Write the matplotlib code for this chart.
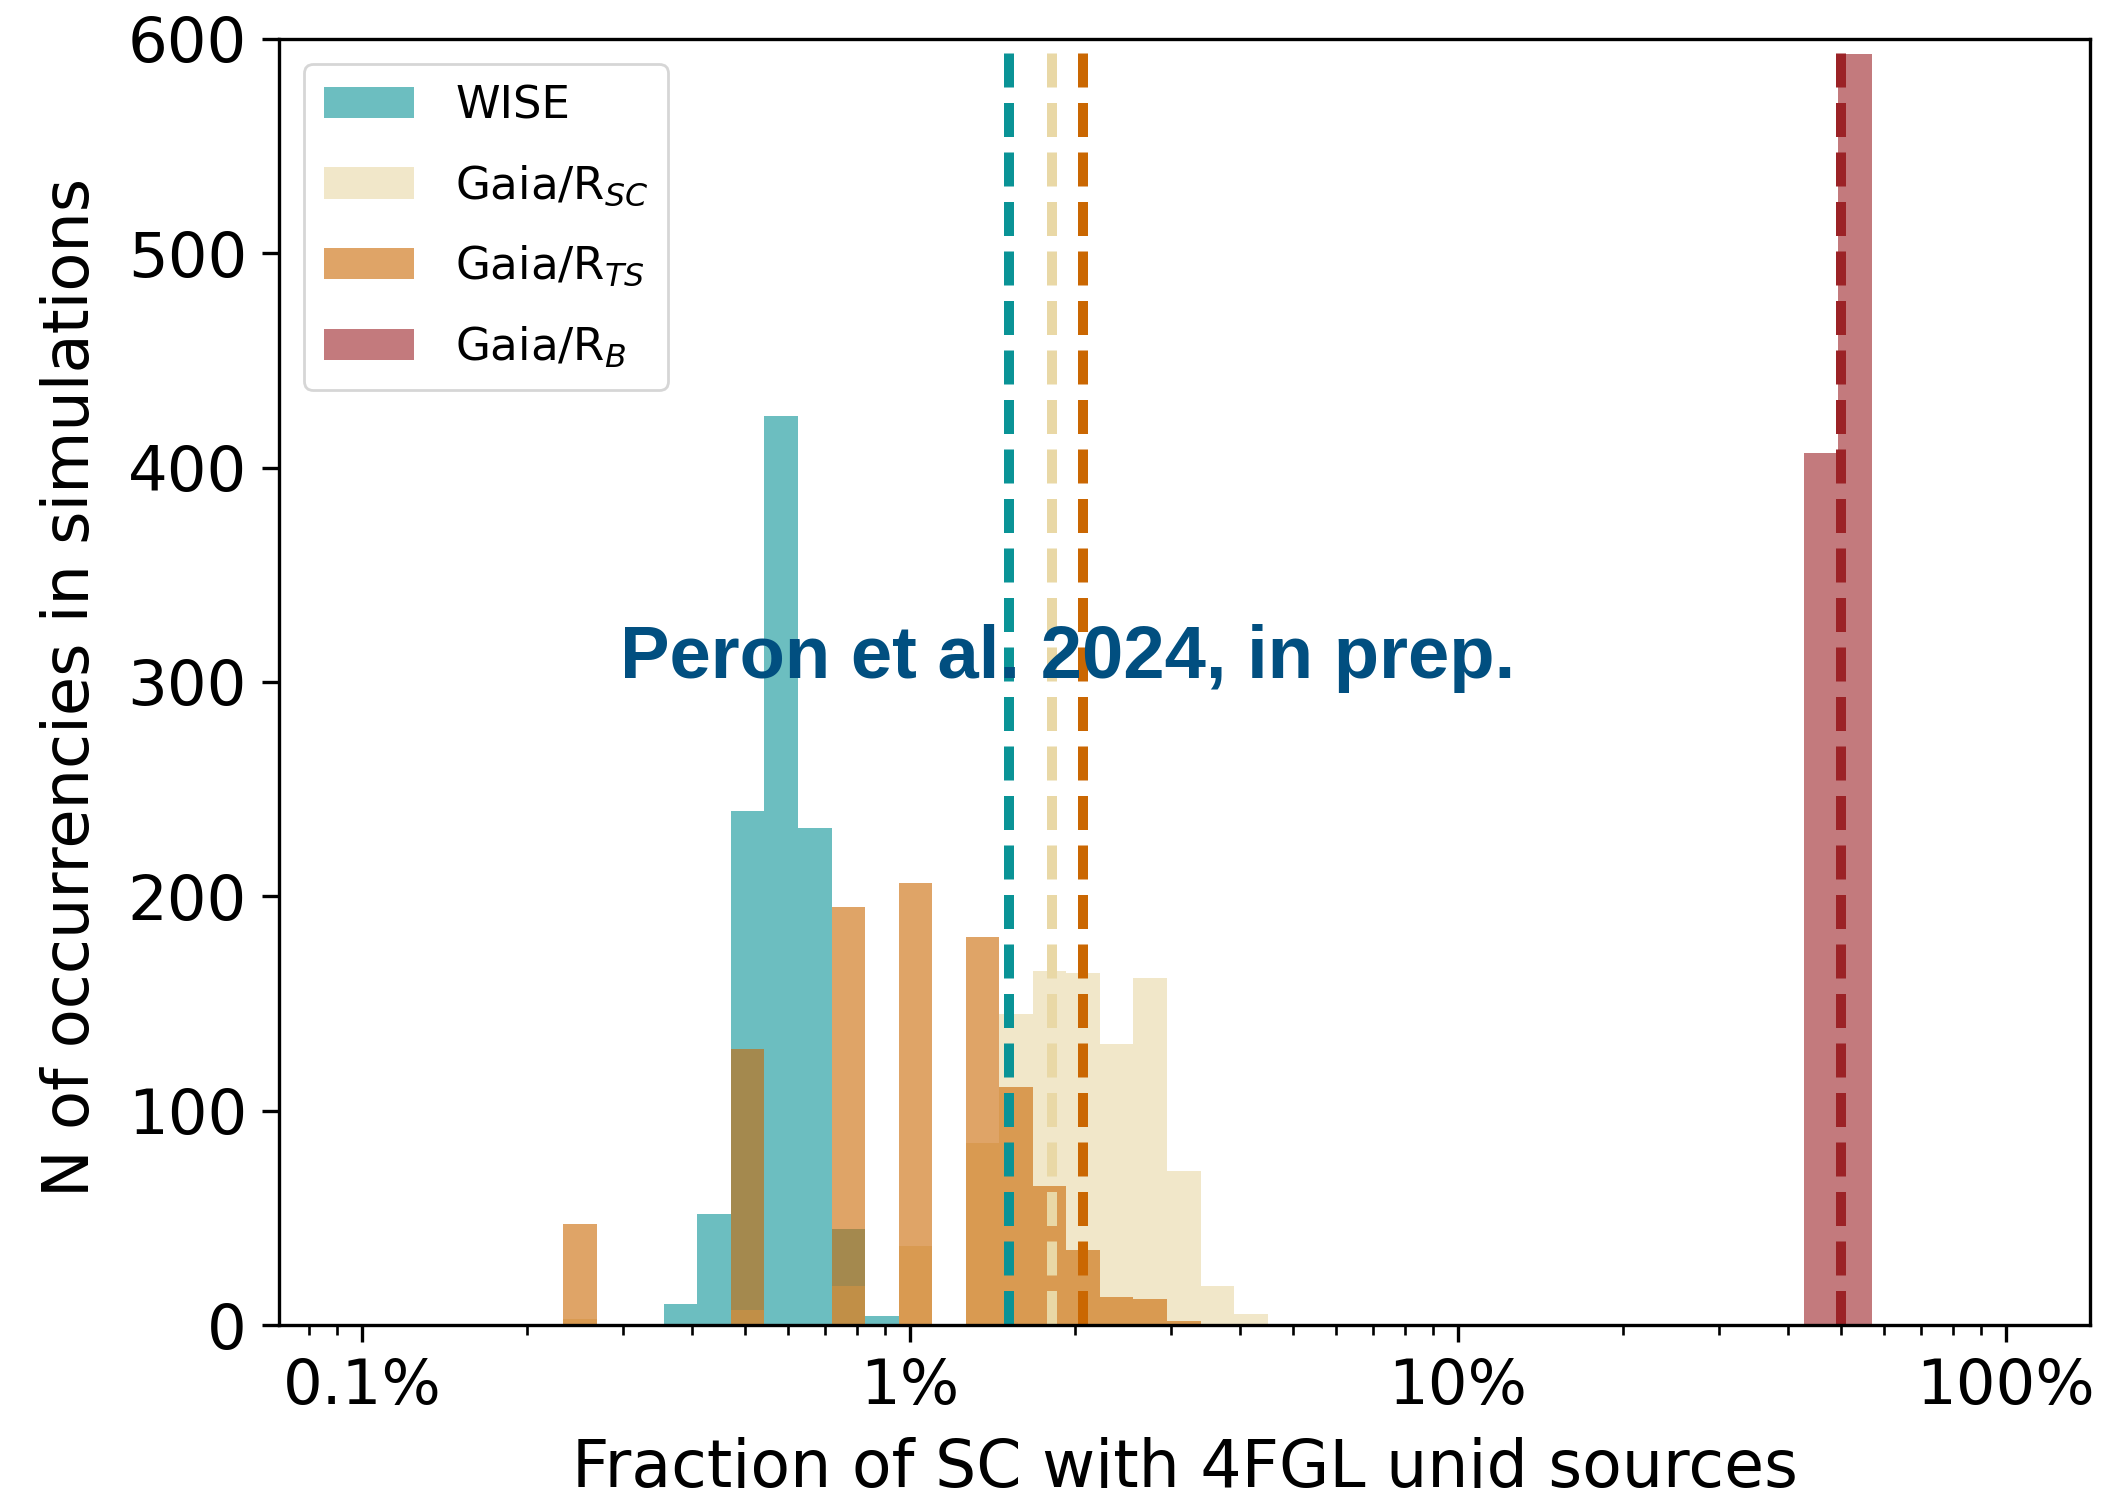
import numpy as np
import matplotlib
matplotlib.use('Agg')
import matplotlib.pyplot as plt
from matplotlib.ticker import FuncFormatter

# ---- data -------------------------------------------------------------
# Histogram binning: 49 log-spaced bins between 0.1% and 100%
bin_edges = np.logspace(-3, 0, 50)

wise_bins = [9, 10, 11, 12, 13, 14, 15]
wise_counts = [10, 52, 240, 424, 232, 45, 4]

gaia_sc_bins = [6, 11, 14, 16, 18, 19, 20, 21, 22, 23, 24, 25, 26]
gaia_sc_counts = [3, 7, 18, 37, 85, 145, 165, 164, 131, 162, 72, 18, 5]

gaia_ts_bins = [6, 11, 14, 16, 18, 19, 20, 21, 22, 23, 24]
gaia_ts_counts = [47, 129, 195, 206, 181, 111, 65, 35, 13, 12, 2]

gaia_b_bins = [43, 44]
gaia_b_counts = [407, 593]

# central values (vertical dashed lines), as fractions
center_values = [0.0152, 0.0182, 0.0207, 0.50]

labels = ['WISE', r'Gaia/R$_{SC}$', r'Gaia/R$_{TS}$', r'Gaia/R$_{B}$']
colors = ['#0A9396', '#E9D8A6', '#CA6702', '#9B2226']

x_tick_values = [0.001, 0.01, 0.1, 1.0]
y_tick_values = [0, 100, 200, 300, 400, 500, 600]

xlabel = 'Fraction of SC with 4FGL unid sources'
ylabel = 'N of occurrencies in simulations'
annotation = 'Peron et al. 2024, in prep.'

# ---- figure -----------------------------------------------------------
W, H = 2101, 1495
fig = plt.figure(figsize=(W / 100, H / 100), dpi=100)
ax = fig.add_axes([279 / W, 1 - 1325 / H, (2090 - 279) / W, (1325 - 39) / H])

centers = np.sqrt(bin_edges[:-1] * bin_edges[1:])
series = [(wise_bins, wise_counts), (gaia_sc_bins, gaia_sc_counts),
          (gaia_ts_bins, gaia_ts_counts), (gaia_b_bins, gaia_b_counts)]

for (idx, cnt), col, lab in zip(series, colors, labels):
    w = np.zeros(len(centers))
    w[idx] = cnt
    ax.hist(centers, bins=bin_edges, weights=w, color=col, alpha=0.6,
            label=lab)

for val, col in zip(center_values, colors):
    ax.axvline(val, color=col, lw=7.2, ls=(0, (3.4, 1.55)))

ax.set_xscale('log')
ax.set_xlim(7.06e-4, 1.425)
ax.set_ylim(0, 600)
ax.set_xticks(x_tick_values)
ax.set_yticks(y_tick_values)
ax.xaxis.set_major_formatter(FuncFormatter(lambda v, p: f'{v * 100:g}%'))

for s in ax.spines.values():
    s.set_linewidth(2.4)
ax.tick_params(which='major', length=12, width=2.4, labelsize=45, pad=11)
ax.tick_params(which='minor', length=7, width=1.9)

ax.set_xlabel(xlabel, fontsize=46.7)
ax.xaxis.set_label_coords(0.5, -(1487 - 1325) / 1286)
ax.xaxis.label.set_va('baseline')
ax.set_ylabel(ylabel, fontsize=46)
ax.yaxis.set_label_coords(-(279 - 102) / 1811, 0.496)

leg = ax.legend(loc='upper left', fontsize=32.5, framealpha=0.8,
                borderpad=0.45, labelspacing=0.8, handlelength=2.0,
                handletextpad=0.9, borderaxespad=0.55)
leg.get_frame().set_linewidth(2)

fig.text(620 / W, 1 - 678 / H, annotation, fontsize=53.5, fontweight='bold',
         family=['Liberation Sans', 'DejaVu Sans'], color='#014F80',
         ha='left', va='baseline')

fig.savefig('out.png', dpi=100)
